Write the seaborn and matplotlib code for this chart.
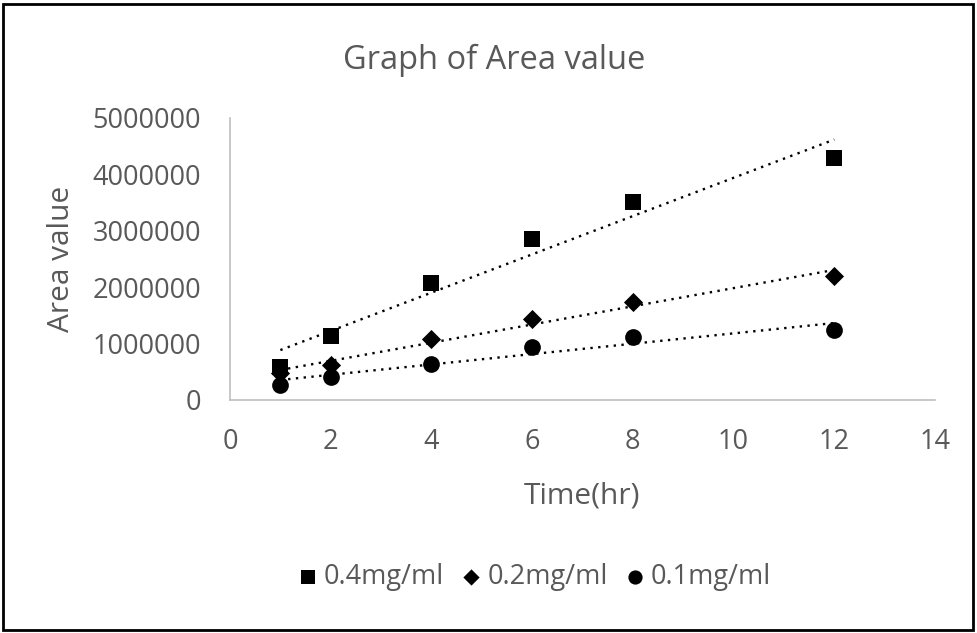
import matplotlib
matplotlib.use("Agg")
import matplotlib.pyplot as plt
from matplotlib.patches import Rectangle
import seaborn as sns
import pandas as pd

time_hr = [1, 2, 4, 6, 8, 12]
area_04 = [590000, 1140000, 2080000, 2860000, 3515000, 4290000]
area_02 = [470000, 620000, 1080000, 1440000, 1740000, 2200000]
area_01 = [270000, 415000, 635000, 940000, 1115000, 1235000]

series_labels = ["0.4mg/ml", "0.2mg/ml", "0.1mg/ml"]
series_markers = ["s", "D", "o"]
series_sizes = [140, 95, 145]

TEXT = "#595959"
AXIS = "#bfbfbf"

sns.set_style("white")
plt.rcParams["font.family"] = ["Open Sans", "DejaVu Sans"]

fig = plt.figure(figsize=(9.78, 6.33), dpi=100)
ax = fig.add_axes([230 / 978, 1 - 400 / 633, 705 / 978, 282 / 633])

df = pd.DataFrame({
    "Time(hr)": time_hr * 3,
    "Area value": area_04 + area_02 + area_01,
    "series": [s for s in series_labels for _ in time_hr],
})

# linear trendlines, dotted
for label in series_labels:
    sub = df[df["series"] == label]
    sns.regplot(data=sub, x="Time(hr)", y="Area value", ax=ax, ci=None,
                scatter=False, truncate=True,
                line_kws=dict(color="black", lw=1.7, linestyle=(0, (1, 2.3))))

for label, marker, size in zip(series_labels, series_markers, series_sizes):
    sub = df[df["series"] == label]
    sns.scatterplot(data=sub, x="Time(hr)", y="Area value", ax=ax,
                    marker=marker, s=size, color="black", edgecolor="black",
                    linewidth=0, label=label, zorder=3)

ax.set_xlim(0, 14)
ax.set_ylim(0, 5000000)
ax.set_xticks(range(0, 15, 2))
ax.set_yticks(range(0, 5000001, 1000000))
ax.set_yticklabels([str(v) for v in range(0, 5000001, 1000000)])

for side in ["top", "right"]:
    ax.spines[side].set_visible(False)
for side in ["left", "bottom"]:
    ax.spines[side].set_color(AXIS)
    ax.spines[side].set_linewidth(1.2)

ax.tick_params(axis="both", direction="out", length=7, width=1.2, color=AXIS,
               labelsize=19.5, labelcolor=TEXT)
ax.tick_params(axis="x", pad=13)
ax.tick_params(axis="y", pad=14)

ax.set_xlabel("Time(hr)", fontsize=21.5, color=TEXT)
ax.set_ylabel("Area value", fontsize=21.5, color=TEXT)
ax.xaxis.set_label_coords(0.5, -0.29)
ax.yaxis.set_label_coords(-0.219, 0.5)

fig.text(0.505, 0.905, "Graph of Area value", ha="center", va="center",
         fontsize=23.5, color=TEXT)

handles, labels = ax.get_legend_handles_labels()
if ax.legend_:
    ax.legend_.remove()
fig.legend(handles, labels, loc="center", bbox_to_anchor=(0.546, 0.088), ncol=3,
           frameon=False, fontsize=19.5, labelcolor=TEXT, handlelength=0.8,
           handletextpad=0.2, columnspacing=0.6, markerscale=0.85)

fig.patches.append(Rectangle((3 / 978, 3 / 633), 970 / 978, 626 / 633,
                             transform=fig.transFigure, fill=False,
                             edgecolor="black", linewidth=2))

plt.savefig("out.png", dpi=100)
plt.close()
